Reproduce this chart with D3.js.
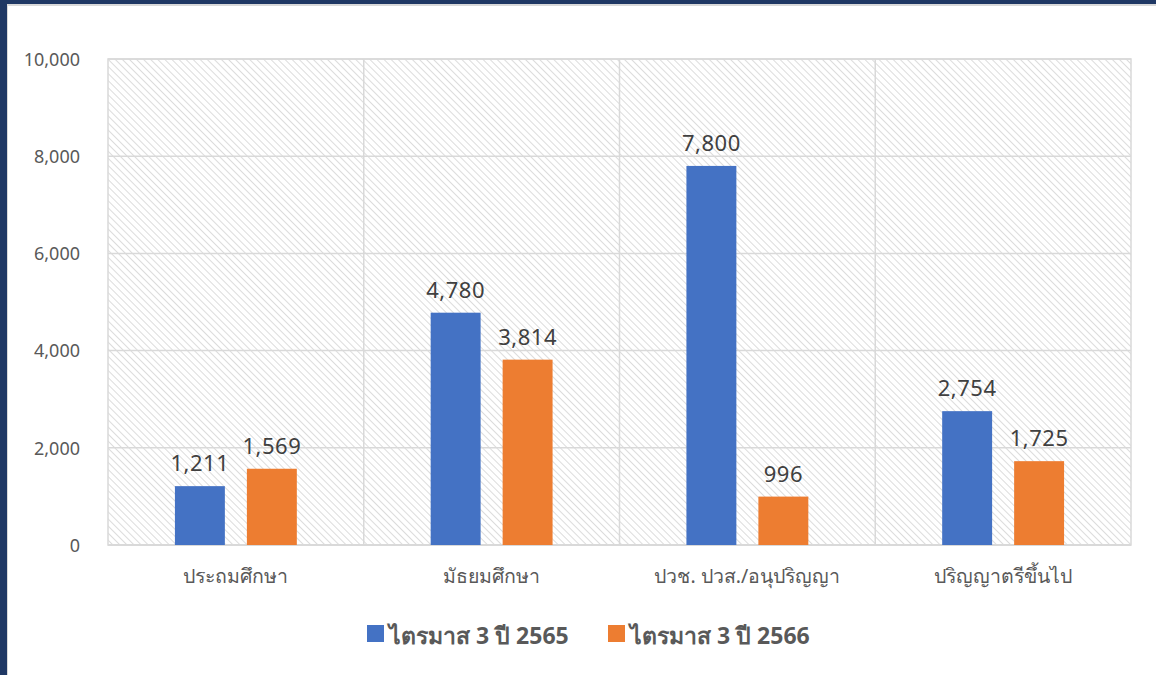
<!DOCTYPE html>
<html>
<head>
<meta charset="utf-8">
<script src="https://cdn.jsdelivr.net/npm/d3@7"></script>
<style>
  body { margin: 0; background: #fff; }
  svg { display: block; }
  svg text { font-family: "Noto Sans", "DejaVu Sans", sans-serif; }
</style>
</head>
<body>
<div id="chart"></div>
<script>
// education level, quarter 3 comparison
const categories = ["ประถมศึกษา", "มัธยมศึกษา", "ปวช. ปวส./อนุปริญญา", "ปริญญาตรีขึ้นไป"];
const seriesNames = ["ไตรมาส 3 ปี 2565", "ไตรมาส 3 ปี 2566"];
const values2565 = [1211, 4780, 7800, 2754];
const values2566 = [1569, 3814, 996, 1725];
const yTicks = [0, 2000, 4000, 6000, 8000, 10000];
const colors = ["#4472c4", "#ed7d31"];

const width = 1156, height = 675;
const m = {left: 108, right: 25, top: 59, bottom: 130};

const svg = d3.select("#chart").append("svg")
  .attr("width", width).attr("height", height);

// frame edge
svg.append("rect").attr("x", 0).attr("y", 0).attr("width", width).attr("height", 4).attr("fill", "#1f3864");
svg.append("rect").attr("x", 0).attr("y", 0).attr("width", 7).attr("height", height).attr("fill", "#1f3864");
svg.append("rect").attr("x", 7).attr("y", 4).attr("width", width).attr("height", 2).attr("fill", "#d9d9d9");
svg.append("rect").attr("x", 7).attr("y", 4).attr("width", 1).attr("height", height).attr("fill", "#d9d9d9");

const defs = svg.append("defs");
const pat = defs.append("pattern").attr("id", "hatch")
  .attr("patternUnits", "userSpaceOnUse").attr("width", 5).attr("height", 5)
  .attr("patternTransform", "rotate(45)");
pat.append("rect").attr("width", 5).attr("height", 5).attr("fill", "#fff");
pat.append("line").attr("x1", 0).attr("y1", 0).attr("x2", 5).attr("y2", 0)
  .attr("stroke", "#dcdcdc").attr("stroke-width", 2);

const x = d3.scaleBand().domain(categories).range([m.left, width - m.right]);
const y = d3.scaleLinear().domain([0, 10000]).range([height - m.bottom, m.top]);

svg.append("rect").attr("x", m.left).attr("y", m.top)
  .attr("width", x.range()[1] - m.left).attr("height", y(0) - m.top)
  .attr("fill", "url(#hatch)").attr("stroke", "#d9d9d9").attr("stroke-width", 1.5);

svg.append("g").selectAll("line").data(yTicks.slice(1)).join("line")
  .attr("x1", m.left).attr("x2", width - m.right)
  .attr("y1", d => y(d)).attr("y2", d => y(d))
  .attr("stroke", "#d9d9d9").attr("stroke-width", 1.5);

svg.append("g").selectAll("line").data(categories.slice(1)).join("line")
  .attr("x1", d => x(d)).attr("x2", d => x(d))
  .attr("y1", m.top).attr("y2", y(0))
  .attr("stroke", "#d9d9d9").attr("stroke-width", 1.5);

svg.append("line").attr("x1", m.left).attr("x2", width - m.right)
  .attr("y1", y(0)).attr("y2", y(0)).attr("stroke", "#d9d9d9").attr("stroke-width", 2);

const yAxis = svg.append("g").attr("transform", `translate(${m.left - 25},0)`)
  .call(d3.axisLeft(y).tickValues(yTicks).tickFormat(d3.format(",")).tickSize(0));
yAxis.select(".domain").remove();
yAxis.selectAll("text").attr("fill", "#595959").style("font-size", "18px").attr("dy", "0.35em");

const xAxis = svg.append("g").attr("transform", `translate(0,${y(0)})`)
  .call(d3.axisBottom(x).tickSize(0).tickPadding(24));
xAxis.select(".domain").remove();
xAxis.selectAll("text").attr("fill", "#595959").style("font-size", "19.5px");

// bar width 50, gap 22 inside each 256px band
const sub = d3.scaleBand().domain([0, 1]).range([0, x.bandwidth()]).paddingInner(0.306).paddingOuter(0.93);

const series = [values2565, values2566];
series.forEach((vals, si) => {
  const g = svg.append("g");
  g.selectAll("rect").data(vals).join("rect")
    .attr("x", (d, i) => x(categories[i]) + sub(si))
    .attr("width", sub.bandwidth())
    .attr("y", d => y(d)).attr("height", d => y(0) - y(d))
    .attr("fill", colors[si]);
  g.selectAll("text").data(vals).join("text")
    .attr("x", (d, i) => x(categories[i]) + sub(si) + sub.bandwidth() / 2)
    .attr("y", d => y(d) - 15)
    .attr("text-anchor", "middle").attr("fill", "#404040")
    .style("font-size", "22px").style("letter-spacing", "0.5px").text(d => d3.format(",")(d));
});

const legend = svg.append("g");
const lx = [367, 608];
seriesNames.forEach((n, i) => {
  legend.append("rect").attr("x", lx[i]).attr("y", 625).attr("width", 17).attr("height", 17).attr("fill", colors[i]);
  legend.append("text").attr("x", lx[i] + 22).attr("y", 644)
    .attr("fill", "#595959").style("font-size", "23px").style("font-weight", "bold").text(n);
});
</script>
</body>
</html>
